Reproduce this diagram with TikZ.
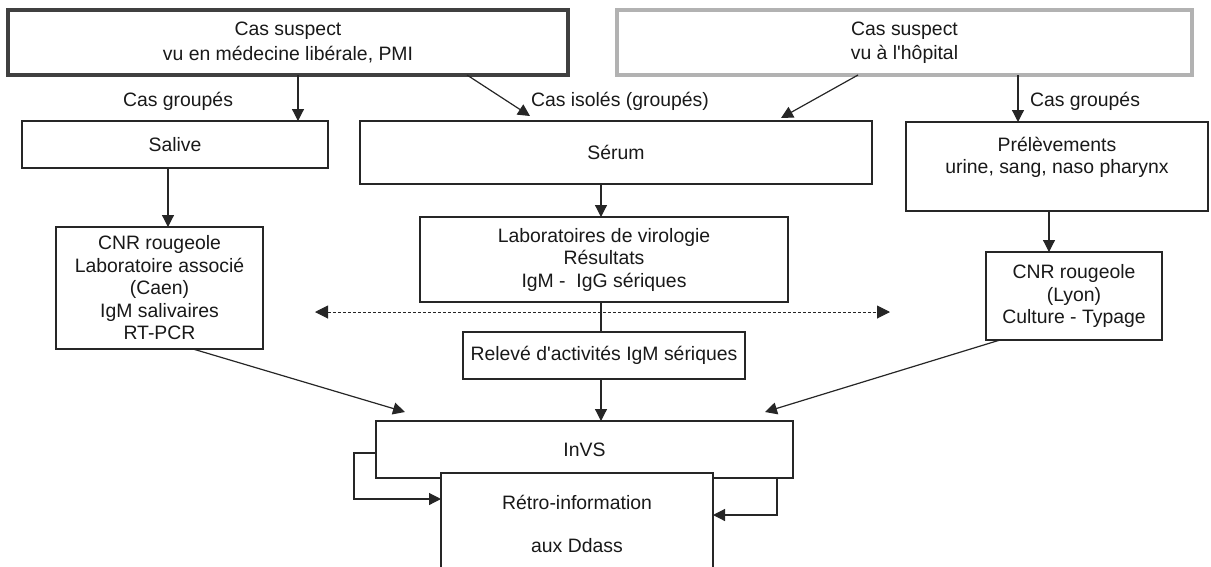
\documentclass[tikz,border=0pt]{standalone}
\usepackage{fontspec}
\setmainfont{Liberation Sans}
\usetikzlibrary{arrows.meta,positioning}

\begin{document}
\begin{tikzpicture}[
    x=1pt, y=-1pt,
    font=\fontsize{19.4}{22.5}\selectfont,
    every node/.style={outer sep=0pt, inner sep=0pt, text=black!90},
    box/.style={rectangle, draw=black!85, line width=1.2pt, fill=white, align=center},
    origin/.style={rectangle, line width=4pt, fill=white, align=center,
                   minimum height=65pt},
    arrow/.style={-{Triangle[length=12pt,width=12pt]}, line width=1.2pt, draw=black!85},
    link/.style={line width=1.2pt, draw=black!85},
    exchange/.style={{Triangle[length=13pt,width=13pt]}-{Triangle[length=13pt,width=13pt]},
                     line width=1pt, draw=black!85, dash pattern=on 3pt off 2pt},
    tag/.style={anchor=base west},
]
\clip (0,0) rectangle (1211,566);

% Suspect cases
\node[origin, draw=black!75, minimum width=560pt] (medlib) at (288,42.5) {Cas suspect\\[2pt]vu en médecine libérale, PMI};
\node[origin, draw=black!30, minimum width=575pt, right=49pt of medlib] (hopital) {Cas suspect\\[2pt]vu à l\textquotesingle hôpital};

% Samples
\node[box, minimum width=306pt, minimum height=47pt] (salive) at (175,144.5) {Salive};
\node[box, minimum width=512pt, minimum height=63pt] (serum) at (616,152.5) {Sérum};
\node[box, minimum width=302pt, minimum height=89pt] (prelev) at (1057,166.5) {Prélèvements\\urine, sang, naso pharynx\\\mbox{}};

% Laboratories
\node[box, minimum width=207pt, minimum height=122pt] (cnrcaen) at (159.5,288) {CNR rougeole\\Laboratoire associé\\(Caen)\\IgM salivaires\\RT-PCR};
\node[box, minimum width=368pt, minimum height=85pt] (labo) at (604,259.5) {Laboratoires de virologie\\Résultats\\IgM - \ IgG sériques};
\node[box, minimum width=282pt, minimum height=47pt, below=30pt of labo] (releve) {Relevé d\textquotesingle activités IgM sériques};
\node[box, minimum width=176pt, minimum height=88pt] (cnrlyon) at (1074,296) {CNR rougeole\\(Lyon)\\Culture - Typage};

% InVS
\node[box, minimum width=417pt, minimum height=57pt] (invs) at (584.5,449.5) {InVS};

% Free ends
\coordinate (spine) at (601,0);
\coordinate (invsleft) at ([xshift=29pt,yshift=9pt]invs.north west);
\coordinate (invsright) at ([xshift=-28pt,yshift=9pt]invs.north east);
\coordinate (xleft) at (315,312);
\coordinate (xright) at (890,312);

% Arrows
\draw[arrow] ([xshift=10pt]medlib.south) -- ([xshift=10pt]medlib.south |- salive.north);
\draw[arrow] ([xshift=179pt]medlib.south) -- ([xshift=-86pt,yshift=5pt]serum.north);
\draw[arrow] ([xshift=-46.5pt]hopital.south) -- ([xshift=165pt,yshift=3pt]serum.north);
\draw[arrow] ([xshift=113.5pt]hopital.south) -- ([xshift=113.5pt]hopital.south |- prelev.north);
\draw[arrow] ([xshift=-7pt]salive.south) -- ([xshift=-7pt]salive.south |- cnrcaen.north);
\draw[arrow] (serum.south -| spine) -- (labo.north -| spine);
\draw[link] (labo.south -| spine) -- (releve.north -| spine);
\draw[arrow] ([xshift=-8pt]prelev.south) -- ([xshift=-8pt]prelev.south |- cnrlyon.north);
\draw[exchange] (xleft) -- (xright);
\draw[arrow] ([xshift=33.5pt]cnrcaen.south) -- (invsleft);
\draw[arrow] (releve.south -| spine) -- (invs.north -| spine);
\draw[arrow] ([xshift=-74pt]cnrlyon.south) -- (invsright);

% Feedback
\node[box, minimum width=272pt, minimum height=102pt] (retro) at (577,524) {Rétro-information\\[20.5pt]aux Ddass};
\draw[arrow] ([yshift=-3.5pt]invs.west) -- ++(-22pt,0) |- ([yshift=25pt]retro.west);
\draw[arrow] ([xshift=-16pt]invs.south east) |- ([yshift=9pt]retro.east);

% Annotations
\node[tag] (grpleft) at (123,106) {Cas groupés};
\node[tag] (isoles) at (531,106) {Cas isolés (groupés)};
\node[tag] (grpright) at (1030,106) {Cas groupés};

\end{tikzpicture}
\end{document}
